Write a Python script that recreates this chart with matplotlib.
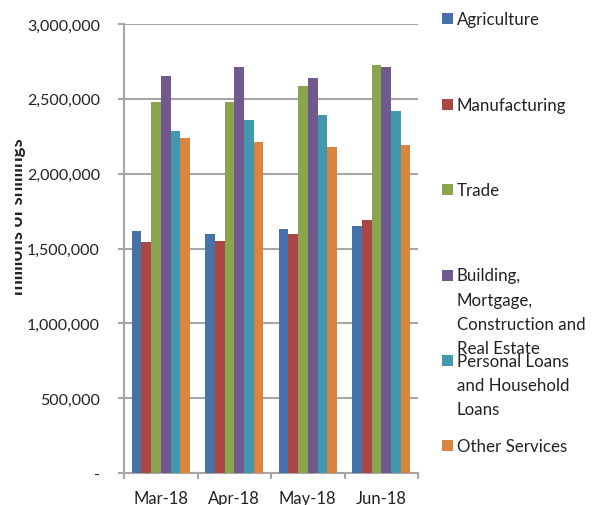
import numpy as np
import matplotlib
matplotlib.use("Agg")
import matplotlib.pyplot as plt
from matplotlib.patches import Rectangle
from matplotlib.transforms import Bbox
from matplotlib.ticker import FuncFormatter

# ========= data =========
months = ["Mar-18", "Apr-18", "May-18", "Jun-18"]
sectors = [
    "Agriculture",
    "Manufacturing",
    "Trade",
    "Building,\nMortgage,\nConstruction and\nReal Estate",
    "Personal Loans\nand Household\nLoans",
    "Other Services",
]
agriculture = [1615000, 1599000, 1628000, 1650000]
manufacturing = [1543000, 1552000, 1595000, 1693000]
trade = [2481000, 2477000, 2584000, 2724000]
building = [2655000, 2715000, 2639000, 2713000]
personal = [2283000, 2356000, 2394000, 2419000]
other_services = [2236000, 2212000, 2178000, 2194000]
series = [agriculture, manufacturing, trade, building, personal, other_services]

colors = ["#4572A7", "#AA4643", "#89A54E", "#71588F", "#4198AF", "#DB843D"]

plt.rcParams["font.family"] = ["Lato", "DejaVu Sans"]
GRID = "#a6a6a6"
TXT = "#222222"

fig = plt.figure(figsize=(6.0, 5.06), dpi=100)
ax = fig.add_axes([0.2067, 0.0632, 0.49, 0.8874])

x = np.arange(len(months))
group_w = 0.795
bw = group_w / len(series)
for i, (vals, col) in enumerate(zip(series, colors)):
    ax.bar(x - group_w / 2 + bw * (i + 0.5), vals, width=bw, color=col,
           linewidth=0, zorder=3)

ax.set_xlim(-0.5, len(months) - 0.5)
ax.set_ylim(0, 3000000)
ax.set_yticks(np.arange(0, 3000001, 500000))
ax.yaxis.set_major_formatter(FuncFormatter(lambda v, p: "-" if v == 0 else f"{int(v):,}"))
ax.yaxis.grid(True, color=GRID, linewidth=1.5, zorder=0)
ax.set_axisbelow(True)

ax.set_xticks(x)
ax.set_xticklabels(months)
ax.set_xticks(np.arange(-0.5, len(months)), minor=True)
ax.tick_params(axis="x", which="major", length=0, pad=12, labelsize=12, colors=TXT)
ax.tick_params(axis="x", which="minor", length=4.5, width=1.5, color=GRID)
ax.tick_params(axis="y", which="major", length=4.3, width=1.5, color=GRID,
               labelsize=11.5, labelcolor=TXT, pad=13)

for s in ["top", "right"]:
    ax.spines[s].set_visible(False)
for s in ["left", "bottom"]:
    ax.spines[s].set_color(GRID)
    ax.spines[s].set_linewidth(1.5)

# y axis label, cut off on its left side like the original
ylab = fig.text(0.043, 0.571, "millions of shillings", rotation=90, ha="right",
                va="center", fontsize=13.5, fontweight="bold", color=TXT)
ylab.set_clip_box(Bbox.from_extents(15, 0, 600, 506))
ylab.set_clip_on(True)

# ========= legend (manual) =========
W, H = 600.0, 506.0
entry_y = [19.5, 105, 190.7, 276, 361.7, 446.7]
for lab, col, yy in zip(sectors, colors, entry_y):
    fig.patches.append(Rectangle((442 / W, 1 - (yy + 5.5) / H), 11 / W, 11 / H,
                                 transform=fig.transFigure, facecolor=col,
                                 edgecolor="none"))
    fig.text(457 / W, 1 - (yy - 7.5) / H, lab, ha="left", va="top",
             fontsize=12.2, color=TXT, linespacing=1.62)

plt.savefig("out.png", dpi=100)
plt.close()
